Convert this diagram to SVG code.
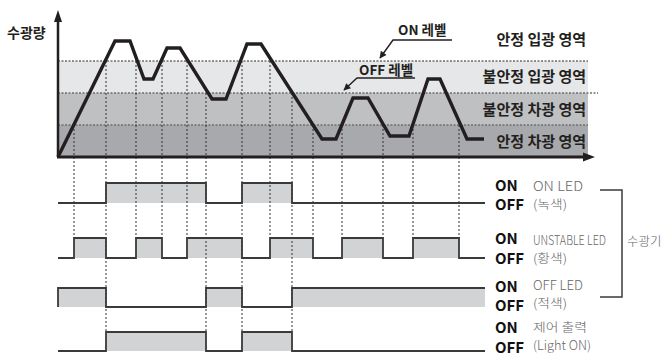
<svg xmlns="http://www.w3.org/2000/svg" width="665" height="356" viewBox="0 0 665 356">
<style>
text{font-family:"Noto Sans CJK KR","Noto Sans",sans-serif}
.b{font-weight:700;fill:#231f20}
.rg{font-size:15px;text-anchor:end}
.onoff{font-size:15px;font-weight:700;fill:#111}
.lt{font-size:12.5px;fill:#666;font-weight:300}
.hl{fill:none;stroke:#6d6e70;stroke-width:1.3;stroke-dasharray:2 1.5}
.vd{fill:none;stroke:#333;stroke-width:1;stroke-dasharray:2 2}
.wave{fill:none;stroke:#231f20;stroke-width:3.4;stroke-linejoin:miter}
.sig{fill:none;stroke:#3a3a3a;stroke-width:1.8}
.fill{fill:#d1d3d4}
.lead{fill:none;stroke:#231f20;stroke-width:1.4}
</style>
<defs>
<marker id="ah" viewBox="0 0 10 10" refX="9" refY="5" markerWidth="9" markerHeight="7" markerUnits="userSpaceOnUse" orient="auto">
<path d="M0,0 L10,5 L0,10 z" fill="#231f20"/>
</marker>
</defs>
<rect width="665" height="356" fill="#fff"/>

<g id="bands">
<rect x="58" y="61" width="530" height="32" fill="#e6e7e8"/>
<rect x="58" y="93" width="530" height="32" fill="#bfc0c2"/>
<rect x="58" y="125" width="530" height="32" fill="#a7a9ac"/>
<line class="hl" x1="58" y1="61" x2="588" y2="61"/>
<line class="hl" x1="58" y1="93" x2="598" y2="93"/>
<line class="hl" x1="58" y1="125" x2="588" y2="125"/>
</g>

<g id="signal-fills">
<rect class="fill" x="106" y="183" width="100" height="20"/>
<rect class="fill" x="242" y="183" width="50" height="20"/>
<rect class="fill" x="74" y="238" width="32" height="20"/>
<rect class="fill" x="136" y="238" width="26" height="20"/>
<rect class="fill" x="187" y="238" width="55" height="20"/>
<rect class="fill" x="270" y="238" width="43" height="20"/>
<rect class="fill" x="342" y="238" width="41" height="20"/>
<rect class="fill" x="413" y="238" width="46" height="20"/>
<rect class="fill" x="58" y="288" width="48" height="19"/>
<rect class="fill" x="206" y="288" width="36" height="19"/>
<rect class="fill" x="292" y="288" width="193" height="19"/>
<rect class="fill" x="106" y="332" width="100" height="19"/>
<rect class="fill" x="242" y="332" width="50" height="19"/>
</g>

<g id="connectors">
<line class="vd" x1="74" y1="125" x2="74" y2="238"/>
<line class="vd" x1="106" y1="61" x2="106" y2="332"/>
<line class="vd" x1="136" y1="61" x2="136" y2="238"/>
<line class="vd" x1="162" y1="61" x2="162" y2="238"/>
<line class="vd" x1="187" y1="61" x2="187" y2="238"/>
<line class="vd" x1="206" y1="93" x2="206" y2="332"/>
<line class="vd" x1="242" y1="61" x2="242" y2="332"/>
<line class="vd" x1="270" y1="61" x2="270" y2="238"/>
<line class="vd" x1="292" y1="93" x2="292" y2="332"/>
<line class="vd" x1="313" y1="125" x2="313" y2="238"/>
<line class="vd" x1="342" y1="125" x2="342" y2="238"/>
<line class="vd" x1="383" y1="125" x2="383" y2="238"/>
<line class="vd" x1="413" y1="125" x2="413" y2="238"/>
<line class="vd" x1="459" y1="125" x2="459" y2="238"/>
<polyline class="lead" points="452,40 393,40 380,58" marker-end="url(#ah)"/>
<polyline class="lead" points="415,78 357,78 344,90" marker-end="url(#ah)"/>
<polyline fill="none" stroke="#3a3a3a" stroke-width="1.5" points="600,190 622,190 622,297 600,297"/>
</g>

<g id="waveform">
<polyline class="wave" points="58,157 115,41 130,41 144,79 153,79 167,48 180,48 212,99 226,99 247,44 261,44 322,139 336,139 353,98 368,98 390,136 409,136 428,79 440,79 467,139 484,139"/>
</g>

<g id="axes">
<line x1="58" y1="157" x2="58" y2="20" stroke="#231f20" stroke-width="2.5"/>
<polygon points="58,10 54,22 62,22" fill="#231f20"/>
<line x1="57" y1="157" x2="584" y2="157" stroke="#231f20" stroke-width="3"/>
<polygon points="595,157 583,152.5 583,161.5" fill="#231f20"/>
<text class="b" x="7" y="38" font-size="14">수광량</text>
</g>

<g id="level-labels">
<text class="b" x="398" y="35" font-size="13.5">ON 레벨</text>
<text class="b" x="359" y="75" font-size="13.5">OFF 레벨</text>
</g>

<g id="region-labels">
<text class="b rg" x="586" y="45">안정 입광 영역</text>
<text class="b rg" x="586" y="82">불안정 입광 영역</text>
<text class="b rg" x="586" y="115">불안정 차광 영역</text>
<text class="b rg" x="586" y="147">안정 차광 영역</text>
</g>

<g id="row-on-led">
<polyline class="sig" points="58,203 106,203 106,183 206,183 206,203 242,203 242,183 292,183 292,203 485,203"/>
<text class="onoff" x="495" y="191">ON</text>
<text class="onoff" x="495" y="210">OFF</text>
<text class="lt" x="533" y="191" textLength="50" lengthAdjust="spacingAndGlyphs">ON LED</text>
<text class="lt" x="533" y="209" textLength="34" lengthAdjust="spacingAndGlyphs">(녹색)</text>
</g>

<g id="row-unstable-led">
<polyline class="sig" points="58,258 74,258 74,238 106,238 106,258 136,258 136,238 162,238 162,258 187,258 187,238 242,238 242,258 270,258 270,238 313,238 313,258 342,258 342,238 383,238 383,258 413,258 413,238 459,238 459,258 485,258"/>
<text class="onoff" x="495" y="244">ON</text>
<text class="onoff" x="495" y="264">OFF</text>
<text class="lt" x="533" y="245" textLength="73" lengthAdjust="spacingAndGlyphs">UNSTABLE LED</text>
<text class="lt" x="533" y="263" textLength="34" lengthAdjust="spacingAndGlyphs">(황색)</text>
</g>

<g id="row-off-led">
<polyline class="sig" points="58,307 58,288 106,288 106,307 206,307 206,288 242,288 242,307 292,307 292,288 485,288"/>
<text class="onoff" x="495" y="292">ON</text>
<text class="onoff" x="495" y="311">OFF</text>
<text class="lt" x="533" y="290" textLength="50" lengthAdjust="spacingAndGlyphs">OFF LED</text>
<text class="lt" x="533" y="308" textLength="34" lengthAdjust="spacingAndGlyphs">(적색)</text>
</g>

<g id="row-control">
<polyline class="sig" points="58,351 106,351 106,332 206,332 206,351 242,351 242,332 292,332 292,351 485,351"/>
<text class="onoff" x="495" y="333">ON</text>
<text class="onoff" x="495" y="353">OFF</text>
<text class="lt" x="533" y="332" textLength="54" lengthAdjust="spacingAndGlyphs">제어 출력</text>
<text class="lt" x="533" y="350" textLength="58" lengthAdjust="spacingAndGlyphs">(Light ON)</text>
</g>

<g id="receiver-label">
<text class="lt" x="627" y="246">수광기</text>
</g>
</svg>
